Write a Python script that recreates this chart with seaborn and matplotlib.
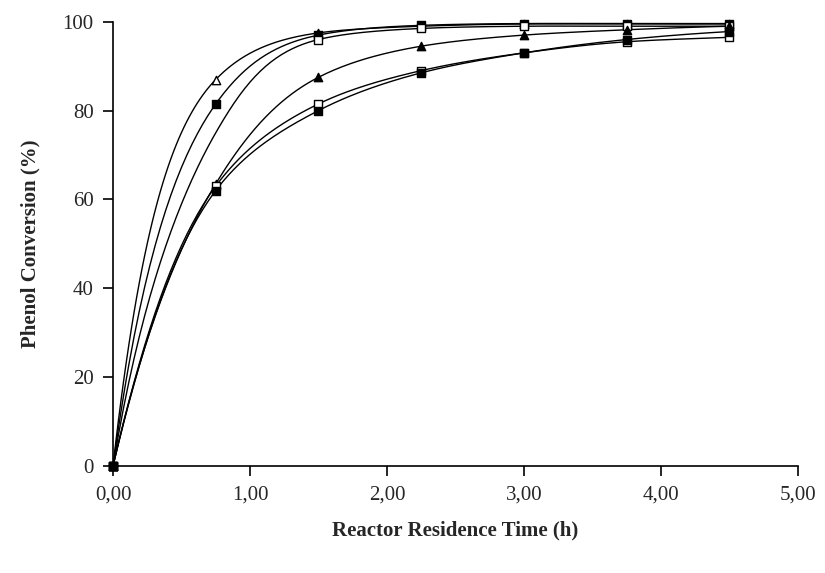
import numpy as np
import pandas as pd
import matplotlib
matplotlib.use("Agg")
import matplotlib.pyplot as plt
import seaborn as sns

# residence time (h)
time_h = [0.0, 0.75, 1.50, 2.25, 3.00, 3.75, 4.50]

# phenol conversion (%) per run
conv_open_tri = [0, 87.0, 97.5, 99.0, 99.5, 99.5, 99.5]
conv_fill_sq = [0, 81.5, 97.0, 99.2, 99.6, 99.6, 99.6]
conv_open_sq_hi = [0, 75.0, 96.0, 98.5, 99.0, 99.0, 99.0]
conv_fill_tri = [0, 63.5, 87.5, 94.5, 97.0, 98.2, 99.0]
conv_open_sq_lo = [0, 63.0, 81.5, 89.0, 93.0, 95.5, 96.5]
conv_fill_sq_lo = [0, 62.0, 80.0, 88.5, 93.0, 96.0, 97.8]

# no marker is visible on the third curve at 0.75 h
shown_open_sq_hi = [True, False, True, True, True, True, True]
shown_all = [True] * 7

series = [
    (conv_open_tri, "^", "white", shown_all),
    (conv_fill_sq, "s", "black", shown_all),
    (conv_open_sq_hi, "s", "white", shown_open_sq_hi),
    (conv_fill_tri, "^", "black", shown_all),
    (conv_open_sq_lo, "s", "white", shown_all),
    (conv_fill_sq_lo, "s", "black", shown_all),
]


def smooth(x, y, n=40):
    # smooth line through the points: cubic hermite on ln(100 - y),
    # so the curve saturates below 100 without overshoot
    x = np.asarray(x, float)
    z = np.log(100.0 - np.asarray(y, float))
    h = np.diff(x)
    m = np.gradient(z, x)
    xs, zs = [], []
    for k in range(len(x) - 1):
        t = np.linspace(0, 1, n)
        if k > 0:
            t = t[1:]
        h00 = 2 * t ** 3 - 3 * t ** 2 + 1
        h10 = t ** 3 - 2 * t ** 2 + t
        h01 = -2 * t ** 3 + 3 * t ** 2
        h11 = t ** 3 - t ** 2
        xs.append(x[k] + t * h[k])
        zs.append(h00 * z[k] + h10 * h[k] * m[k] + h01 * z[k + 1] + h11 * h[k] * m[k + 1])
    return np.concatenate(xs), 100.0 - np.exp(np.concatenate(zs))


sns.set_style("white")
plt.rcParams["font.family"] = ["Liberation Serif", "DejaVu Serif"]

fig = plt.figure(figsize=(8.25, 5.73), dpi=100)
ax = fig.add_axes([0.137, 0.187, 0.830, 0.775])

for vals, mk, fc, shown in series:
    sx, sy = smooth(time_h, vals)
    df_line = pd.DataFrame({"t": sx, "c": sy})
    sns.lineplot(data=df_line, x="t", y="c", ax=ax, color="black", lw=1.0,
                 sort=False, estimator=None)
    df_pts = pd.DataFrame({"t": time_h, "c": vals})[shown]
    sns.scatterplot(data=df_pts, x="t", y="c", ax=ax, marker=mk, s=36,
                    facecolor=fc, edgecolor="black", linewidth=1.0,
                    zorder=5, clip_on=False)

ax.set_xlim(0, 5)
ax.set_ylim(0, 100)
ax.set_xticks([0, 1, 2, 3, 4, 5])
ax.set_xticklabels(["0,00", "1,00", "2,00", "3,00", "4,00", "5,00"])
ax.set_yticks([0, 20, 40, 60, 80, 100])
ax.tick_params(axis="both", direction="out", length=7, width=1.2,
               labelsize=15, color="black", bottom=True, left=True, pad=7)
for side in ["top", "right"]:
    ax.spines[side].set_visible(False)
for side in ["left", "bottom"]:
    ax.spines[side].set_color("black")
    ax.spines[side].set_linewidth(1.2)

ax.set_xlabel("Reactor Residence Time (h)", fontsize=15, fontweight="bold", labelpad=12)
ax.set_ylabel("Phenol Conversion (%)", fontsize=15, fontweight="bold", labelpad=16)

fig.savefig("out.png", dpi=100)
